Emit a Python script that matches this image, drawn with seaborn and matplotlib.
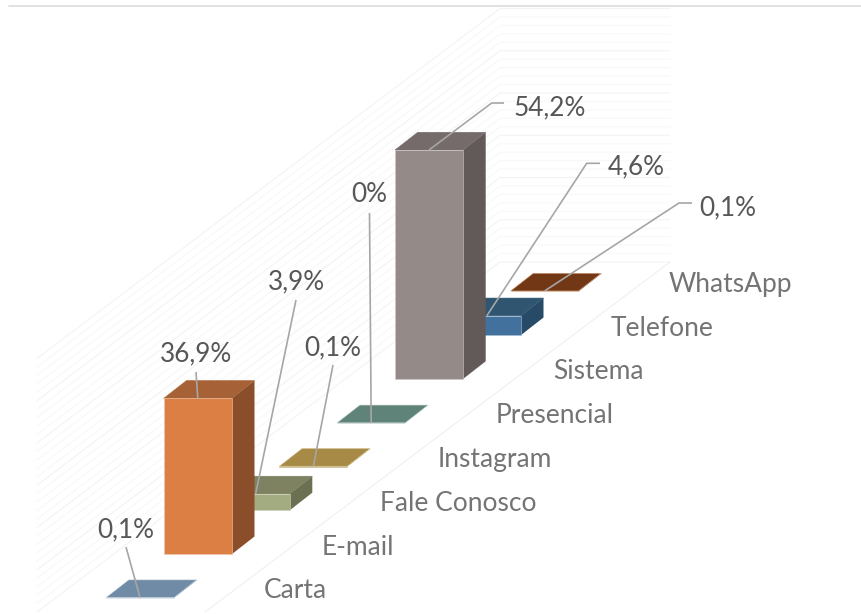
import matplotlib
matplotlib.use("Agg")
import matplotlib.pyplot as plt
import numpy as np
import pandas as pd
import seaborn as sns

categories = ["Carta", "E-mail", "Fale Conosco", "Instagram", "Presencial", "Sistema", "Telefone", "WhatsApp"]
values = [0.1, 36.9, 3.9, 0.1, 0.0, 54.2, 4.6, 0.1]
value_labels = ["0,1%", "36,9%", "3,9%", "0,1%", "0%", "54,2%", "4,6%", "0,1%"]
front_colors = ["#7090A8", "#DC7F45", "#A3AB80", "#A68A45", "#5F8279", "#948A87", "#41719C", "#723815"]
top_colors = ["#6F8BA5", "#A66236", "#7E8260", "#A68A45", "#5F8279", "#756B6B", "#2F5571", "#723815"]
side_colors = ["#5A7389", "#8A4F2A", "#6B7052", "#8A7238", "#4E6B64", "#625A59", "#274A66", "#5C2D11"]
edge_colors = ["#C9D6E0", "#F0C9AE", "#CDD2B8", "#D9C99E", "#B5C8C2", "#CFCAC8", "#A8C0D6", "#D9A27E"]
grid_ticks = np.arange(0, 62, 2)

# geometria da projecao obliqua, tudo em pixels da imagem
PX_PER_PCT = 4.225
STEP_X, STEP_Y = 57.8, 43.8
X0, Y0 = 106, 598
BAR_W = 68
DEPTH_X, DEPTH_Y = 22.7, 17.7
TEXT = "#575757"
LINE = "#A6A6A6"


def py(px):
    return (614 - px) / PX_PER_PCT


sns.set_theme(style="white")
plt.rcParams["font.family"] = ["Lato", "DejaVu Sans"]

fig = plt.figure(figsize=(8.62, 6.14), dpi=100)
ax = fig.add_axes([0, 0, 1, 1])

idx = np.arange(len(categories))
left = X0 + STEP_X * idx
base = py(Y0 - STEP_Y * idx)

df = pd.DataFrame({"x": left + BAR_W / 2, "valor": values})
sns.barplot(
    data=df,
    x="x",
    y="valor",
    native_scale=True,
    width=BAR_W / STEP_X,
    errorbar=None,
    ax=ax,
)

dy = DEPTH_Y / PX_PER_PCT
for i, patch in enumerate(ax.patches):
    layer = 10 + 2 * (len(categories) - i)
    patch.set_y(base[i])
    patch.set_facecolor(front_colors[i])
    patch.set_edgecolor(edge_colors[i])
    patch.set_linewidth(0.4)
    patch.set_zorder(layer + 1)
    x0, x1 = left[i], left[i] + BAR_W
    b, t = base[i], base[i] + values[i]
    ax.fill(
        [x1, x1 + DEPTH_X, x1 + DEPTH_X, x1],
        [b, b + dy, t + dy, t],
        color=side_colors[i],
        lw=0,
        zorder=layer,
    )
    ax.fill(
        [x0, x1, x1 + DEPTH_X, x0 + DEPTH_X],
        [t, t, t + dy, t + dy],
        facecolor=top_colors[i],
        edgecolor=edge_colors[i] if values[i] < 1 else top_colors[i],
        lw=0.4,
        zorder=layer,
    )

# paredes com as linhas de grade
for tick in grid_ticks:
    c = "#F3F3F3" if tick % 10 == 0 else "#F8F8F8"
    ax.plot([37, 500, 670], [py(612) + tick, py(262) + tick, py(262) + tick], color=c, lw=0.8, zorder=1)
ax.plot([205, 670], [py(612), py(262)], color="#F0F0F0", lw=0.8, zorder=1)

# linhas de chamada e rotulos: (cotovelo em px, fim em px, posicao do texto, alinhamento)
callouts = [
    (None, (126, 547), (126, 530), "center"),
    (None, (196, 372), (196, 354), "center"),
    (None, (296, 300), (296, 282), "center"),
    (None, (333, 365), (333, 348), "center"),
    (None, (369.5, 213), (369, 195), "center"),
    ((491.7, 103), (504, 103), (513, 108), "left"),
    ((586.7, 163.3), (600, 163.3), (608, 167), "left"),
    ((679, 203), (692, 203), (699, 208), "left"),
]
for i, (elbow, end, pos, ha) in enumerate(callouts):
    ax_x = left[i] + BAR_W / 2
    ax_y = base[i] + values[i]
    xs = [ax_x] + ([elbow[0]] if elbow else []) + [end[0]]
    ys = [ax_y] + ([py(elbow[1])] if elbow else []) + [py(end[1])]
    ax.plot(xs, ys, color=LINE, lw=1.2, zorder=40, solid_capstyle="butt")
    ax.text(pos[0], py(pos[1]), value_labels[i], ha=ha, va="center", fontsize=18.8, color=TEXT, zorder=41)

for i, name in enumerate(categories):
    ax.text(264 + STEP_X * i, py(591 - STEP_Y * i), name, ha="left", va="center", fontsize=19, color="#747474", zorder=41)

# linha do topo
ax.plot([9, 862], [py(6), py(6)], color="#DEDEDE", lw=1.3, zorder=2)

ax.set_xlim(0, 862)
ax.set_ylim(0, 614 / PX_PER_PCT)
ax.set_axis_off()

fig.savefig("out.png", dpi=100, facecolor="white")
